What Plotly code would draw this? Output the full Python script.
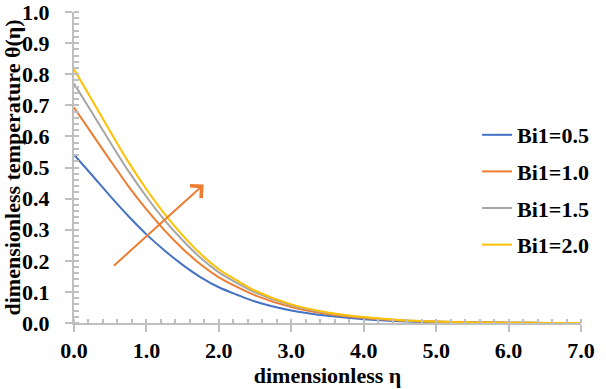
import plotly.graph_objects as go

eta = [0, 0.25, 0.5, 0.75, 1.0, 1.25, 1.5, 1.75, 2.0, 2.25, 2.5, 3.0, 3.5, 4.0, 4.5, 5.0, 5.5, 6.0, 6.5, 7.0]
theta_bi05 = [0.541, 0.475, 0.408, 0.344, 0.285, 0.233, 0.187, 0.147, 0.115, 0.091, 0.069, 0.040, 0.023, 0.012, 0.006, 0.003, 0.002, 0.001, 0.000, 0.000]
theta_bi10 = [0.693, 0.608, 0.523, 0.440, 0.365, 0.298, 0.239, 0.188, 0.147, 0.116, 0.089, 0.051, 0.029, 0.016, 0.008, 0.004, 0.002, 0.001, 0.000, 0.000]
theta_bi15 = [0.770, 0.676, 0.581, 0.489, 0.406, 0.331, 0.266, 0.209, 0.163, 0.129, 0.099, 0.057, 0.032, 0.018, 0.009, 0.005, 0.002, 0.001, 0.000, 0.000]
theta_bi20 = [0.816, 0.716, 0.616, 0.518, 0.430, 0.351, 0.282, 0.222, 0.173, 0.137, 0.104, 0.060, 0.034, 0.019, 0.010, 0.005, 0.002, 0.001, 0.000, 0.000]

series_names = ["Bi1=0.5", "Bi1=1.0", "Bi1=1.5", "Bi1=2.0"]
series_values = [theta_bi05, theta_bi10, theta_bi15, theta_bi20]
colors = ["#4472C4", "#ED7D31", "#A5A5A5", "#FFC000"]

x_ticks = [0, 1, 2, 3, 4, 5, 6, 7]
x_tick_labels = ["0.0", "1.0", "2.0", "3.0", "4.0", "5.0", "6.0", "7.0"]
y_ticks = [0.0, 0.1, 0.2, 0.3, 0.4, 0.5, 0.6, 0.7, 0.8, 0.9, 1.0]
y_tick_labels = ["0.0", "0.1", "0.2", "0.3", "0.4", "0.5", "0.6", "0.7", "0.8", "0.9", "1.0"]

# trend arrow (tail -> head) in data units
arrow_tail = (0.53, 0.18)
arrow_head = (1.79, 0.445)

FONT = "Liberation Serif"
FS = 22
AXIS_COLOR = "#BFBFBF"

fig = go.Figure()
for i, (name, vals, col) in enumerate(zip(series_names, series_values, colors)):
    fig.add_trace(go.Scatter(
        x=eta, y=vals, mode="lines", name=name,
        line=dict(color=col, width=2, shape="spline", smoothing=0.8),
        legendgroup=f"g{i}",
    ))

fig.add_annotation(
    x=arrow_head[0], y=arrow_head[1], ax=arrow_tail[0], ay=arrow_tail[1],
    xref="x", yref="y", axref="x", ayref="y",
    showarrow=True, arrowhead=4, arrowsize=1.6, arrowwidth=2,
    arrowcolor="#ED7D31", text="",
)

fig.update_layout(
    width=606, height=389,
    margin=dict(l=74, r=14, t=12, b=66),
    paper_bgcolor="white", plot_bgcolor="white",
    font=dict(family=FONT, size=FS, color="black"),
    showlegend=True,
    legend=dict(
        x=0.795, y=0.672, xanchor="left", yanchor="top",
        font=dict(family=FONT, size=FS, color="black", weight="bold"),
        bgcolor="rgba(0,0,0,0)",
        traceorder="grouped", tracegroupgap=5,
    ),
    xaxis=dict(
        range=[0, 7], tickmode="array", tickvals=x_ticks, ticktext=x_tick_labels,
        automargin=False,
        showgrid=False, zeroline=False, showline=True,
        linecolor=AXIS_COLOR, linewidth=2,
        ticks="outside", ticklen=7, tickwidth=2, tickcolor=AXIS_COLOR,
        minor=dict(ticks="inside", dtick=0.2, ticklen=4, tickwidth=2, tickcolor=AXIS_COLOR, showgrid=False),
        tickfont=dict(family=FONT, size=FS, color="black", weight="bold"),
        ticklabelstandoff=0, ticklabeloverflow="allow",
        title=dict(text="dimensionless η", font=dict(family=FONT, size=FS, color="black", weight="bold"), standoff=0),
    ),
    yaxis=dict(
        range=[0, 1.0], tickmode="array", tickvals=y_ticks, ticktext=y_tick_labels,
        automargin=False,
        showgrid=False, zeroline=False, showline=True,
        linecolor=AXIS_COLOR, linewidth=2,
        ticks="outside", ticklen=7, tickwidth=2, tickcolor=AXIS_COLOR,
        minor=dict(ticks="inside", dtick=0.02, ticklen=5, tickwidth=2, tickcolor=AXIS_COLOR, showgrid=False),
        tickfont=dict(family=FONT, size=FS, color="black", weight="bold"),
        ticklabelstandoff=11, ticklabeloverflow="allow",
        title=dict(text="dimensionless temperature θ(η)", font=dict(family=FONT, size=FS, color="black", weight="bold"), standoff=0),
    ),
)

fig.write_html("out.html", config={"displayModeBar": False},
               post_script="document.body.style.margin='0';")
